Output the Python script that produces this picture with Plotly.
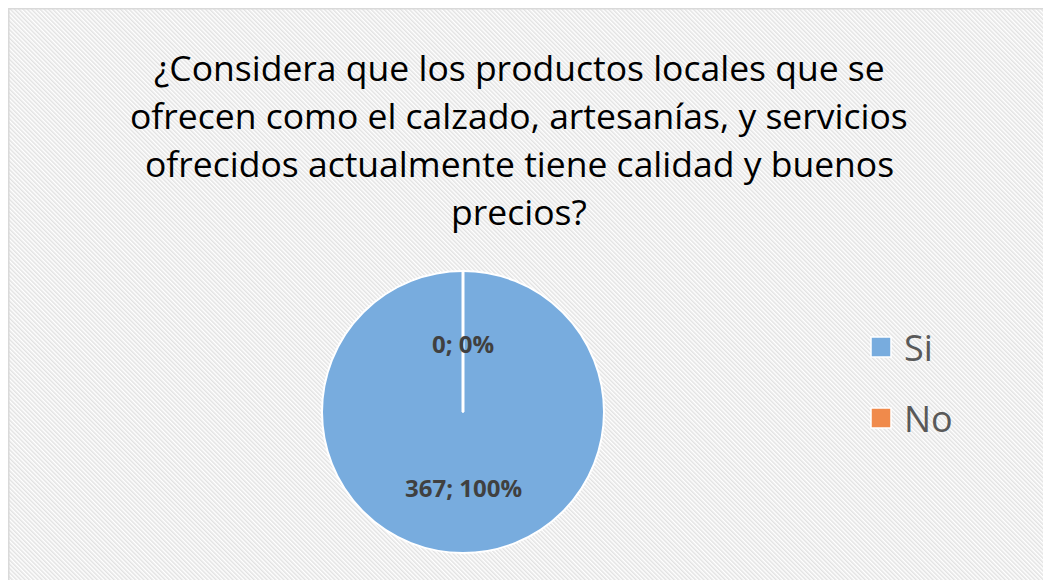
import base64
import plotly.graph_objects as go

# ---- data ----
labels = ["Si", "No"]
values = [367, 0]
colors = ["#78ACDE", "#F08A4B"]
title_lines = [
    "¿Considera que los productos locales que se",
    "ofrecen como el calzado, artesanías, y servicios",
    "ofrecidos actualmente tiene calidad y buenos",
    "precios?",
]

# page is drawn with an 8px body margin; work in page pixels and convert
OFF = 8
W, H = 1051 - OFF, 580 - OFF
total = sum(values)

# pie geometry (page pixels)
cx, cy, r = 463, 412, 141

def px(x):
    return (x - OFF) / W

def py(y):
    return 1 - (y - OFF) / H

fig = go.Figure()
fig.add_trace(go.Pie(
    labels=labels,
    values=values,
    marker=dict(colors=colors, line=dict(color="white", width=2)),
    sort=False,
    direction="clockwise",
    rotation=0,
    textinfo="none",
    hoverinfo="label+value+percent",
    showlegend=False,
    domain=dict(x=[px(cx - r), px(cx + r)], y=[py(cy + r), py(cy - r)]),
))

# striped background
svg = (
    f"<svg xmlns='http://www.w3.org/2000/svg' width='{W}' height='{H}'>"
    "<defs><pattern id='p' width='3' height='3' patternUnits='userSpaceOnUse' "
    "patternTransform='rotate(-45)'>"
    "<rect width='3' height='3' fill='#ffffff'/>"
    "<rect width='1.5' height='3' fill='#e2e2e2'/></pattern></defs>"
    f"<rect x='0' y='0' width='{W}' height='{H}' fill='url(#p)'/></svg>"
)
src = "data:image/svg+xml;base64," + base64.b64encode(svg.encode()).decode()
fig.add_layout_image(dict(
    source=src, xref="paper", yref="paper",
    x=0, y=1, sizex=1, sizey=1,
    sizing="stretch", layer="below", xanchor="left", yanchor="top",
))

shapes = [
    # chart border (left and top edges visible)
    dict(type="rect", xref="paper", yref="paper",
         x0=0.8 / W, y0=-0.02, x1=1.02, y1=1 - 0.8 / H,
         line=dict(color="#d9d9d9", width=1.5), fillcolor="rgba(0,0,0,0)", layer="below"),
    # slice border of zero slice (from centre to top)
    dict(type="line", xref="paper", yref="paper",
         x0=px(cx), y0=py(cy), x1=px(cx), y1=py(cy - r),
         line=dict(color="white", width=3)),
]

annotations = []
# title
title_y = [67, 115, 163, 211]
for line, yy in zip(title_lines, title_y):
    annotations.append(dict(
        text=line, xref="paper", yref="paper", x=px(519), y=py(yy),
        xanchor="center", yanchor="middle", showarrow=False,
        font=dict(family="Open Sans", size=35.5, color="#000000"),
    ))

# data labels
label_pos = [(cx, 487), (cx, 343)]
for v, (lx, ly) in zip(values, label_pos):
    pct = round(100 * v / total)
    annotations.append(dict(
        text=f"<b>{v}; {pct}%</b>", xref="paper", yref="paper",
        x=px(lx), y=py(ly), xanchor="center", yanchor="middle", showarrow=False,
        font=dict(family="Open Sans", size=24, color="#404040"),
    ))

# legend (custom)
leg_y = [347, 418]
for lab, col, yy in zip(labels, colors, leg_y):
    shapes.append(dict(type="rect", xref="paper", yref="paper",
                       x0=px(871), x1=px(891), y0=py(yy + 10), y1=py(yy - 10),
                       fillcolor=col, line=dict(color="white", width=1.5)))
    annotations.append(dict(
        text=lab, xref="paper", yref="paper", x=px(902), y=py(yy),
        xanchor="left", yanchor="middle", showarrow=False,
        font=dict(family="Open Sans", size=36, color="#595959"),
    ))

fig.update_layout(
    width=W, height=H,
    margin=dict(l=0, r=0, t=0, b=0),
    paper_bgcolor="white", plot_bgcolor="white",
    shapes=shapes, annotations=annotations,
    showlegend=False,
)

fig.write_html("out.html")
